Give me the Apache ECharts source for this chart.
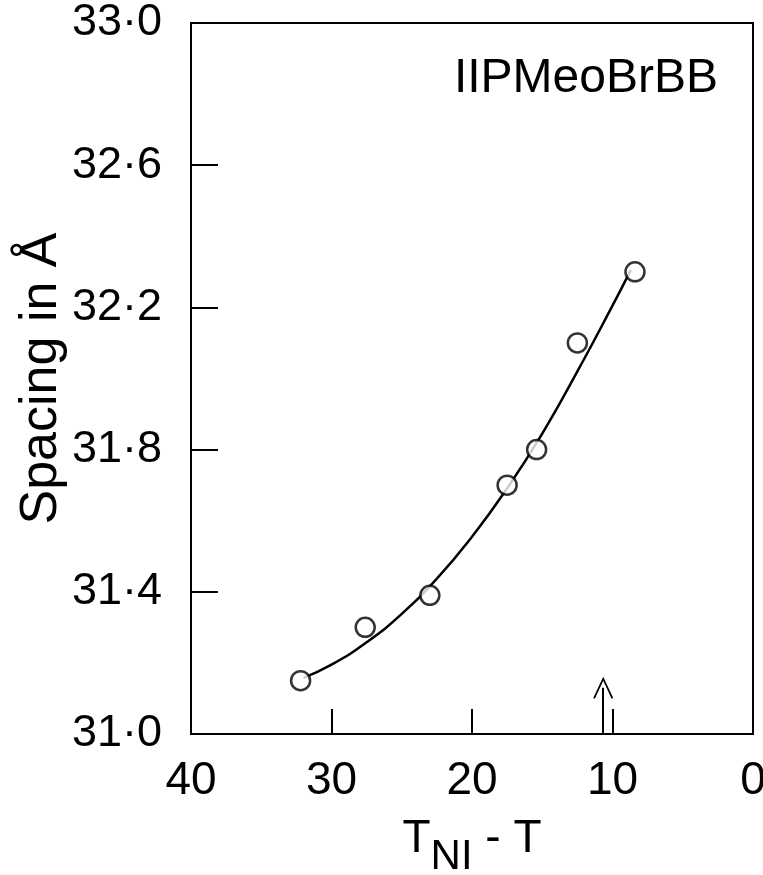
<!DOCTYPE html>
<html>
<head>
<meta charset="utf-8">
<script src="https://cdn.jsdelivr.net/npm/echarts@6/dist/echarts.min.js"></script>
<style>
html,body{margin:0;padding:0;background:#fff;}
#chart{width:763px;height:875px;}
</style>
</head>
<body>
<div id="chart"></div>
<script>
// Measured points (T_NI - T, spacing in Å)
const pointX = [32.2, 27.6, 23.0, 17.5, 15.4, 12.5, 8.4];
const pointY = [31.15, 31.30, 31.39, 31.70, 31.80, 32.10, 32.30];
// Fitted curve
const curveX = [32.0, 30.0, 27.5, 25.0, 22.5, 20.0, 17.5, 15.0, 12.5, 10.0, 8.7];
const curveY = [31.158, 31.195, 31.258, 31.338, 31.437, 31.555, 31.691, 31.845, 32.02, 32.205, 32.305];
// Arrow marking the transition
const arrowX = 10.66;
const arrowY = [31.0, 31.13];
// Tick values
const yTicks = [31.0, 31.4, 31.8, 32.2, 32.6, 33.0];
const xTicks = [0, 10, 20, 30, 40];
const compoundName = 'IIPMeoBrBB';

const FONT = 'Liberation Sans';
const chart = echarts.init(document.getElementById('chart'));
chart.setOption({
  backgroundColor: '#ffffff',
  animation: false,
  grid: {
    left: 191, right: 10, top: 23, bottom: 141,
    containLabel: false,
    outerBoundsMode: 'none',
    show: true, borderColor: '#000', borderWidth: 2, backgroundColor: 'transparent'
  },
  graphic: [{
    type: 'text',
    x: 718, y: 79,
    style: {
      text: compoundName,
      font: '48px "' + FONT + '"',
      fill: '#000',
      textAlign: 'right',
      textVerticalAlign: 'middle'
    }
  }],
  xAxis: {
    type: 'value',
    inverse: true,
    position: 'bottom',
    min: xTicks[0], max: xTicks[xTicks.length - 1], interval: 10,
    splitLine: { show: false },
    axisLine: { show: true, onZero: false, lineStyle: { color: '#000', width: 2 } },
    axisTick: { show: true, inside: true, length: 25, lineStyle: { color: '#000', width: 2 } },
    axisLabel: {
      color: '#000', fontFamily: FONT, fontSize: 46, margin: 24,
      showMinLabel: true, showMaxLabel: true
    },
    name: '{a|T}{b|NI}{a| - T}',
    nameLocation: 'middle',
    nameGap: 82,
    nameMoveOverlap: false,
    nameTextStyle: {
      color: '#000', fontFamily: FONT,
      rich: {
        a: { fontSize: 46, lineHeight: 46, verticalAlign: 'top', color: '#000', fontFamily: FONT },
        b: { fontSize: 42, lineHeight: 62, verticalAlign: 'bottom', color: '#000', fontFamily: FONT }
      }
    }
  },
  yAxis: {
    type: 'value',
    position: 'left',
    min: 31, max: 33,
    splitLine: { show: false },
    axisLine: { show: true, onZero: false, lineStyle: { color: '#000', width: 2 } },
    axisTick: { show: true, inside: true, length: 27, customValues: yTicks, lineStyle: { color: '#000', width: 2 } },
    axisLabel: {
      color: '#000', fontFamily: FONT, fontSize: 45, margin: 29,
      customValues: yTicks,
      formatter: v => v.toFixed(1).replace('.', '\u00B7')
    },
    name: 'Spacing in Å',
    nameLocation: 'middle',
    nameRotate: 90,
    nameGap: 123,
    nameMoveOverlap: false,
    nameTextStyle: { color: '#000', fontFamily: FONT, fontSize: 52 }
  },
  series: [
    {
      type: 'line',
      data: curveX.map((x, i) => [x, curveY[i]]),
      smooth: true,
      showSymbol: false,
      symbol: 'none',
      lineStyle: { color: '#000', width: 2.5 },
      z: 2,
      markLine: {
        silent: true,
        symbol: ['none', 'path://M0,0 L10,22 L8.4,22.8 L0,4 L-8.4,22.8 L-10,22 Z'],
        symbolSize: [20, 22],
        label: { show: false },
        lineStyle: { color: '#000', width: 2, type: 'solid' },
        data: [[{ coord: [arrowX, arrowY[0]] }, { coord: [arrowX, arrowY[1]] }]]
      }
    },
    {
      type: 'scatter',
      data: pointX.map((x, i) => [x, pointY[i]]),
      symbol: 'circle',
      symbolSize: 19,
      itemStyle: { color: '#fff', borderColor: '#000', borderWidth: 2.5 },
      z: 3
    }
  ]
});
</script>
</body>
</html>
